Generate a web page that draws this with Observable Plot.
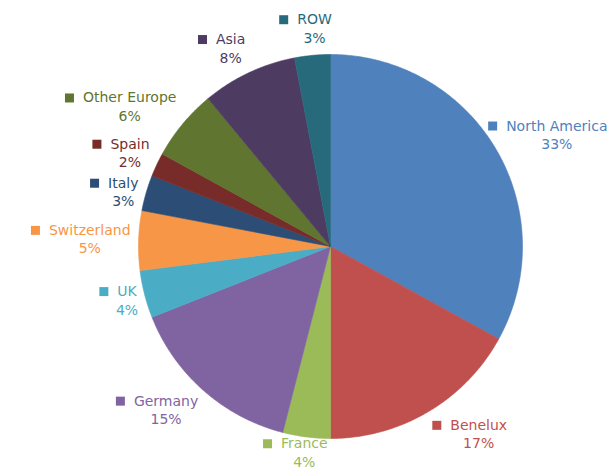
<!DOCTYPE html>
<html><head><meta charset="utf-8">
<script src="https://cdn.jsdelivr.net/npm/d3@7"></script>
<script src="https://cdn.jsdelivr.net/npm/@observablehq/plot@0.6"></script>
<style>body{margin:0;background:#fff;} svg{overflow:visible}</style>
</head><body><div id="chart"></div>
<script>
// ---- data ----
const regions = ["North America","Benelux","France","Germany","UK","Switzerland","Italy","Spain","Other Europe","Asia","ROW"];
const shares  = [33,17,4,15,4,5,3,2,6,8,3];
const colors  = ["#4f81bd","#c0504d","#9bbb59","#8064a2","#4bacc6","#f79646","#2c4d75","#772c2a","#5f7530","#4d3b62","#276a7c"];

// ---- layout ----
const W = 609, H = 472;
const R = 192, cx = 330, cy = 246;
const FONT = "DejaVu Sans", FS = 14, LINE = 18.5, MARK = 9, GAP = 9, PAD = 8;

const ctx = document.createElement("canvas").getContext("2d");
ctx.font = `${FS}px "${FONT}"`;

const total = d3.sum(shares);
const slices = [];
let acc = 0;
regions.forEach((name, i) => {
  const a0 = acc / total * 2 * Math.PI;
  acc += shares[i];
  const a1 = acc / total * 2 * Math.PI;
  slices.push({name, share: shares[i], a0, a1});
});

// wedge outlines in unit-circle coordinates (angle clockwise from 12 o'clock)
const pts = [];
for (const s of slices) {
  const n = Math.max(2, Math.ceil((s.a1 - s.a0) / (Math.PI / 360)));
  pts.push({name: s.name, x: 0, y: 0});
  for (let k = 0; k <= n; k++) {
    const a = s.a0 + (s.a1 - s.a0) * k / n;
    pts.push({name: s.name, x: Math.sin(a), y: Math.cos(a)});
  }
  pts.push({name: s.name, x: 0, y: 0});
}

// label blocks placed just outside the slice end (Excel "outside end" style),
// kept within the chart area
const blocks = slices.map(s => {
  const m = (s.a0 + s.a1) / 2;
  const tw = ctx.measureText(s.name).width;
  const w = MARK + GAP + tw, h = 2 * LINE;
  const sx = Math.sin(m), sy = -Math.cos(m);           // pixel direction (y down)
  const fx = Math.max(-1, Math.min(1, 2.5 * sx));
  let bx = (R + PAD) * sx + fx * w / 2;                 // block centre, px offset
  let by = (R + PAD) * sy + sy * h / 2;
  bx = Math.min(bx, W - 2 - cx - w / 2);
  by = Math.min(by, H - 1 - cy - h / 2);
  return {s, tw, w, h, bx, by};
});
// simple collision avoidance: push overlapping blocks downward, per side
for (const side of [b => b.bx < 0, b => b.bx >= 0]) {
  const group = blocks.filter(side).sort((a, b) => a.by - b.by);
  for (let i = 1; i < group.length; i++) {
    const prev = group[i - 1], cur = group[i];
    const overlapX = Math.abs(cur.bx - prev.bx) < (cur.w + prev.w) / 2;
    const minY = prev.by + (prev.h + cur.h) / 2 + 2;
    if (overlapX && cur.by < minY) cur.by = minY;
  }
}
const labels = blocks.map(({s, tw, w, bx, by}) => ({
  name: s.name,
  pct: `${s.share}%`,
  tx: (bx - w / 2 + MARK + GAP + tw / 2) / R,
  mx: (bx - w / 2 + MARK / 2) / R,
  y1: -(by - LINE / 2) / R,
  y2: -(by + LINE / 2) / R
}));

const chart = Plot.plot({
  width: W, height: H,
  marginLeft: cx - R, marginRight: W - (cx + R),
  marginTop: cy - R, marginBottom: H - (cy + R),
  x: {domain: [-1, 1], axis: null},
  y: {domain: [-1, 1], axis: null},
  color: {domain: regions, range: colors},
  style: {fontFamily: FONT, background: "white"},
  marks: [
    Plot.line(pts, {x: "x", y: "y", z: "name", fill: "name", stroke: "name", strokeWidth: 0.6, curve: "linear"}),
    Plot.dot(labels, {x: "mx", y: "y1", symbol: "square", r: MARK / 1.772, fill: "name", stroke: null}),
    Plot.text(labels, {x: "tx", y: "y1", text: "name", fill: "name", fontSize: FS, textAnchor: "middle"}),
    Plot.text(labels, {x: "tx", y: "y2", text: "pct", fill: "name", fontSize: FS, textAnchor: "middle"})
  ]
});
document.getElementById("chart").append(chart);
</script>
</body></html>
